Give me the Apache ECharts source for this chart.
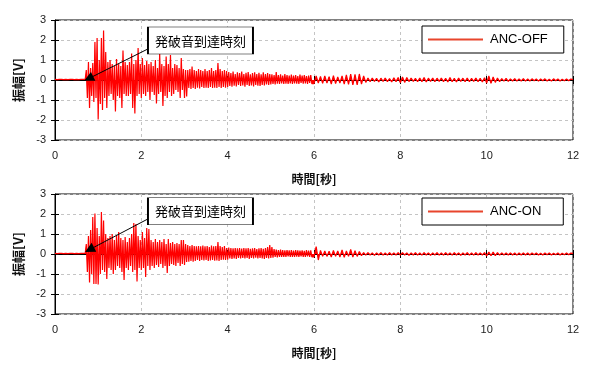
<!DOCTYPE html>
<html><head><meta charset="utf-8">
<script src="https://cdn.jsdelivr.net/npm/echarts@6/dist/echarts.min.js"></script>
<style>html,body{margin:0;padding:0;background:#fff}#c{width:595px;height:370px}</style>
</head><body><div id="c"></div>
<script>
const xTicks = [0, 2, 4, 6, 8, 10, 12];
const yTicks = [-3, -2, -1, 0, 1, 2, 3];
const seriesNames = ['ANC-OFF', 'ANC-ON'];
const annotationText = '発破音到達時刻';
const xName = '時間[秒]';
const yName = '振幅[V]';

// three read-off segments: [start time, step] in seconds
const PRE = [0, 0.05];      // before the blast sound arrives
const DENSE = [0.725, 0.025]; // 0.725 s - 5.95 s, alternating peak values
const TAIL = [6.0, 0.05];   // 6.0 s - 12 s

// ---- ANC-OFF ----
const preOff = [0.03,0.02,0.03,0.03,0.02,0.03,0.02,0.03,0.03,0.02,0.03,0.02,0.03,0.03,0.03];
const denseOff = [
  0.5,-0.9,0.9,-1.4,0.6,-0.8,0.85,-1.1,1.9,-0.9,
  2.1,-1.97,1.0,-1.2,2.1,-1.5,2.47,-0.9,1.4,-1.4,
  0.9,-0.8,1.0,-0.7,0.8,-1.0,0.7,-1.58,1.05,-0.8,
  0.8,-0.9,0.7,-1.4,1.47,-0.7,0.9,-0.8,0.75,-0.8,
  0.9,-0.7,1.33,-1.4,0.8,-1.67,1.0,-0.8,1.6,-0.7,
  0.8,-0.9,1.1,-0.7,0.75,-0.8,0.95,-0.6,0.8,-1.0,
  0.9,-0.6,0.7,-0.75,1.0,-1.17,0.6,-0.7,1.33,-0.6,
  0.8,-1.3,0.7,-0.8,1.17,-0.9,0.8,-0.6,1.25,-0.8,
  0.6,-0.7,0.8,-0.5,0.75,-0.6,0.6,-0.9,1.1,-0.5,
  0.55,-0.9,0.5,-0.83,0.5,-0.4,0.55,-0.45,0.67,-0.4,
  0.5,-0.45,0.45,-0.38,0.55,-0.42,0.5,-0.35,0.45,-0.4,
  0.55,-0.38,0.45,-0.4,0.5,-0.35,0.6,-0.4,0.45,-0.38,
  0.5,-0.4,0.85,-0.35,0.55,-0.4,0.45,-0.35,0.5,-0.38,
  0.45,-0.35,0.4,-0.3,0.35,-0.33,0.42,-0.28,0.3,-0.32,
  0.38,-0.25,0.35,-0.3,0.42,-0.27,0.3,-0.33,0.36,-0.25,
  0.4,-0.3,0.28,-0.27,0.35,-0.32,0.38,-0.25,0.3,-0.28,
  0.36,-0.3,0.28,-0.25,0.38,-0.27,0.3,-0.22,0.35,-0.25,
  0.3,-0.22,0.28,-0.2,0.25,-0.22,0.4,-0.18,0.25,-0.2,
  0.28,-0.17,0.22,-0.2,0.3,-0.18,0.25,-0.2,0.22,-0.17,
  0.27,-0.2,0.22,-0.17,0.25,-0.18,0.2,-0.2,0.27,-0.15,
  0.22,-0.18,0.25,-0.17,0.2,-0.2,0.22,-0.15,0.25,-0.18
];
const tailOff = [
  -0.18,0.2,-0.15,0.18,-0.17,0.2,-0.15,0.17,-0.2,0.22,-0.18,0.15,-0.15,0.2,-0.2,0.25,-0.22,0.3,-0.25,0.28,
  -0.25,0.3,-0.2,0.2,-0.12,0.1,-0.08,0.1,-0.07,0.08,-0.1,0.09,-0.07,0.1,-0.08,0.07,-0.1,0.11,-0.08,0.12,
  -0.14,0.15,-0.12,0.13,-0.08,0.1,-0.07,0.08,-0.09,0.1,-0.08,0.12,-0.1,0.09,-0.07,0.1,-0.08,0.09,-0.07,0.1,
  -0.08,0.09,-0.1,0.12,-0.09,0.08,-0.1,0.1,-0.07,0.09,-0.08,0.1,-0.09,0.08,-0.07,0.1,-0.08,0.09,-0.1,0.11,
  -0.15,0.2,-0.17,0.15,-0.12,0.1,-0.08,0.07,-0.06,0.08,-0.07,0.06,-0.05,0.07,-0.06,0.06,-0.05,0.07,-0.06,0.05,
  -0.05,0.06,-0.04,0.05,-0.06,0.05,-0.04,0.06,-0.05,0.04,-0.05,0.06,-0.04,0.05,-0.05,0.04,-0.04,0.05,-0.04,0.05,
  0.02
];

// ---- ANC-ON ----
const preOn = [0.03,0.02,0.03,0.03,0.02,0.03,0.02,0.03,0.03,0.02,0.03,0.02,0.03,0.03,0.03];
const denseOn = [
  0.5,-0.9,0.9,-1.43,1.2,-1.0,1.85,-1.5,2.03,-1.5,
  1.3,-1.53,0.9,-1.0,2.1,-0.8,1.67,-0.9,1.0,-1.25,
  0.8,-0.7,0.9,-0.8,1.0,-1.0,0.7,-0.8,0.9,-0.6,
  1.1,-0.7,0.8,-0.9,0.7,-1.3,0.85,-0.7,0.6,-0.8,
  0.8,-0.6,1.0,-0.9,1.55,-0.8,1.5,-1.37,0.9,-0.7,
  0.7,-0.8,1.1,-0.7,0.8,-1.15,1.3,-0.6,1.25,-0.8,
  0.7,-0.6,0.6,-0.7,0.75,-0.55,0.6,-0.65,0.7,-0.5,
  0.6,-0.7,0.75,-0.6,0.5,-0.95,0.75,-0.6,0.55,-0.5,
  0.6,-0.55,0.5,-0.6,0.55,-0.45,0.5,-0.6,0.7,-0.5,
  0.7,-0.55,0.5,-0.4,0.45,-0.38,0.4,-0.35,0.45,-0.38,
  0.4,-0.35,0.38,-0.3,0.4,-0.35,0.38,-0.3,0.42,-0.32,
  0.38,-0.3,0.4,-0.35,0.35,-0.32,0.42,-0.3,0.38,-0.33,
  0.4,-0.32,0.6,-0.35,0.4,-0.3,0.35,-0.28,0.4,-0.3,
  0.3,-0.28,0.32,-0.22,0.3,-0.25,0.28,-0.22,0.3,-0.25,
  0.28,-0.2,0.3,-0.22,0.27,-0.2,0.3,-0.22,0.28,-0.2,
  0.3,-0.25,0.26,-0.2,0.28,-0.22,0.3,-0.18,0.25,-0.22,
  0.28,-0.2,0.3,-0.22,0.26,-0.25,0.3,-0.2,0.35,-0.22,
  0.45,-0.2,0.35,-0.18,0.25,-0.15,0.22,-0.17,0.2,-0.15,
  0.22,-0.14,0.2,-0.15,0.18,-0.14,0.2,-0.12,0.18,-0.15,
  0.2,-0.15,0.17,-0.14,0.2,-0.13,0.18,-0.15,0.17,-0.12,
  0.18,-0.14,0.16,-0.15,0.2,-0.12,0.17,-0.14,0.18,-0.15
];
const tailOn = [
  -0.15,0.37,-0.3,0.18,-0.12,0.15,-0.12,0.14,-0.15,0.18,-0.12,0.15,-0.15,0.2,-0.17,0.15,-0.12,0.23,-0.15,0.17,
  -0.12,0.12,-0.08,0.07,-0.06,0.07,-0.05,0.06,-0.07,0.06,-0.05,0.07,-0.06,0.05,-0.06,0.07,-0.05,0.06,-0.05,0.07,
  -0.06,0.07,-0.05,0.06,-0.07,0.06,-0.05,0.07,-0.06,0.05,-0.06,0.07,-0.05,0.06,-0.07,0.06,-0.05,0.07,-0.06,0.05,
  -0.06,0.07,-0.05,0.06,-0.06,0.07,-0.05,0.06,-0.07,0.06,-0.05,0.07,-0.06,0.05,-0.06,0.07,-0.05,0.06,-0.05,0.07,
  -0.1,0.1,-0.09,0.1,-0.08,0.07,-0.06,0.06,-0.05,0.06,-0.05,0.06,-0.05,0.05,-0.06,0.05,-0.05,0.06,-0.05,0.05,
  -0.05,0.05,-0.04,0.05,-0.05,0.04,-0.05,0.05,-0.04,0.05,-0.05,0.04,-0.04,0.05,-0.05,0.04,-0.04,0.05,-0.04,0.05,
  0.03
];

// annotation: label centre and arrow [from, to] in data coordinates
const labelPos = [[3.37, 1.97], [3.37, 2.14]];
const arrowFrom = [[2.15, 1.55], [2.15, 1.75]];
const arrowTo = [[0.78, 0.07], [0.8, 0.22]];

const seg = (arr, s) => arr.map((v, i) => [+(s[0] + i * s[1]).toFixed(3), v]);
const wave = [
  seg(preOff, PRE).concat(seg(denseOff, DENSE), seg(tailOff, TAIL)),
  seg(preOn, PRE).concat(seg(denseOn, DENSE), seg(tailOn, TAIL))
];

const NUM_FONT = 'Liberation Sans, Arial, sans-serif';
const JP_FONT = 'Noto Sans CJK JP, sans-serif';
const grids = [
  {left: 55, right: 22, top: 20, height: 120},
  {left: 55, right: 22, top: 194, height: 120}
].map(g => Object.assign(g, {show: true, borderColor: '#000', borderWidth: 1, backgroundColor: 'transparent'}));

// equalize legend box widths
const ctx = document.createElement('canvas').getContext('2d');
ctx.font = '13px ' + NUM_FONT;
const textW = seriesNames.map(n => ctx.measureText(n).width);
const maxW = Math.max.apply(null, textW);

const xAxis = [], yAxis = [], series = [], legend = [];
[0, 1].forEach(k => {
  xAxis.push({
    type: 'value', gridIndex: k, min: xTicks[0], max: xTicks[xTicks.length - 1], interval: 2,
    name: xName, nameLocation: 'middle', nameGap: 33,
    nameTextStyle: {fontFamily: JP_FONT, fontSize: 12, color: '#111', fontWeight: 'bold'},
    axisLine: {lineStyle: {color: '#000', width: 1}},
    axisTick: {inside: true, length: 4, lineStyle: {color: '#000'}},
    axisLabel: {fontFamily: NUM_FONT, fontSize: 11, color: '#222', margin: 10},
    splitLine: {show: true, lineStyle: {color: '#c4c4c4', type: [3, 3], width: 1}}
  });
  xAxis.push({
    type: 'value', gridIndex: k, position: 'top', min: 0, max: 12, interval: 2,
    axisLine: {show: false}, axisLabel: {show: false}, splitLine: {show: false},
    axisTick: {inside: true, length: 4, lineStyle: {color: '#000'}}
  });
  yAxis.push({
    type: 'value', gridIndex: k, min: yTicks[0], max: yTicks[yTicks.length - 1], interval: 1,
    name: yName, nameLocation: 'middle', nameGap: 30,
    nameTextStyle: {fontFamily: JP_FONT, fontSize: 13, color: '#111', fontWeight: 'bold'},
    axisLine: {show: true, lineStyle: {color: '#000', width: 1}},
    axisTick: {show: true, inside: true, length: 4, lineStyle: {color: '#000'}},
    axisLabel: {fontFamily: NUM_FONT, fontSize: 11, color: '#222', margin: 9},
    splitLine: {show: true, lineStyle: {color: '#c4c4c4', type: [3, 3], width: 1}}
  });
  yAxis.push({
    type: 'value', gridIndex: k, position: 'right', min: -3, max: 3, interval: 1,
    axisLine: {show: false}, axisLabel: {show: false}, splitLine: {show: false},
    axisTick: {show: true, inside: true, length: 4, lineStyle: {color: '#000'}}
  });
  series.push({
    name: seriesNames[k], type: 'line', xAxisIndex: 2 * k, yAxisIndex: 2 * k,
    data: wave[k],
    showSymbol: false, symbol: 'none', sampling: null,
    lineStyle: {color: '#ff0000', width: 1.2}, itemStyle: {color: '#ff0000'},
    areaStyle: {color: '#ff0000', opacity: 1, origin: 0},
    animation: false, z: 2
  });
  // annotation layer (arrow + label box) drawn above the waveform
  series.push({
    name: 'annotation' + k, type: 'line', xAxisIndex: 2 * k, yAxisIndex: 2 * k,
    data: [], z: 10, animation: false, silent: true,
    markLine: {
      silent: true, animation: false, symbol: ['none', 'triangle'], symbolSize: 10,
      lineStyle: {color: '#000', width: 1, type: 'solid'}, itemStyle: {color: '#000'}, label: {show: false},
      data: [[{coord: arrowFrom[k]}, {coord: arrowTo[k]}]]
    },
    markPoint: {
      silent: true, animation: false,
      data: [{coord: labelPos[k], symbol: 'rect', symbolSize: [105, 27],
        itemStyle: {color: '#fff', borderColor: '#000', borderWidth: 1},
        label: {show: true, position: 'inside', formatter: annotationText,
          fontFamily: JP_FONT, fontSize: 13, color: '#000'}}]
    }
  });
  legend.push({
    left: 422, top: k === 0 ? 26 : 198, orient: 'vertical',
    backgroundColor: '#fff', borderColor: '#000', borderWidth: 1,
    padding: [7, 16 + Math.round(maxW - textW[k]), 7, 6], itemGap: 0,
    itemWidth: 55, itemHeight: 2,
    textStyle: {fontFamily: NUM_FONT, fontSize: 13, color: '#000', padding: [0, 0, 0, 2]},
    data: [{name: seriesNames[k], icon: 'rect', itemStyle: {color: '#e8452c'}}]
  });
});

const chart = echarts.init(document.getElementById('c'), null, {renderer: 'canvas'});
chart.setOption({animation: false, grid: grids, xAxis, yAxis, series, legend});
</script></body></html>
